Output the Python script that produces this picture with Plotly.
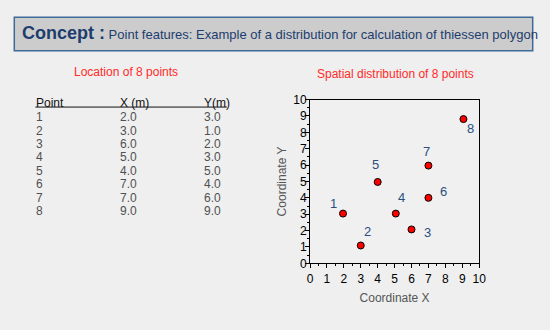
import plotly.graph_objects as go

# ---- data ----
point_ids = ["1", "2", "3", "4", "5", "6", "7", "8"]
x_m = [2.0, 3.0, 6.0, 5.0, 4.0, 7.0, 7.0, 9.0]
y_m = [3.0, 1.0, 2.0, 3.0, 5.0, 4.0, 6.0, 9.0]
# positions as drawn in the scatter
plot_x = [1.95, 3.0, 6.0, 5.07, 4.0, 7.0, 7.0, 9.07]
plot_y = [3.04, 1.09, 2.07, 3.04, 4.97, 4.0, 5.97, 8.81]
table_headers = ["Point", "X (m)", "Y(m)"]
title_bold = "Concept :"
title_rest = "Point features: Example of a distribution for calculation of thiessen polygon"
table_title = "Location of 8 points"
chart_title = "Spatial distribution of 8 points"

W, H = 550, 330
FONT = "Arial, Liberation Sans, sans-serif"
NAVY = "#1c3d6e"
LABEL = "#2b4f7c"

def px(x):
    return x / W

def py(y):
    return (H - y) / H

fig = go.Figure()

fig.add_trace(go.Scatter(
    x=plot_x, y=plot_y, mode="markers",
    marker=dict(color="#ff0000", size=7, line=dict(color="#000000", width=1)),
    hoverinfo="skip", showlegend=False,
))

# label offsets (pixels) for point numbers
lab_dx = [-10, 7, 16, 6, -2, 15, -2, 7]
lab_dy = [10, 14, -3, 16, 17, 6, 14, -9]
annotations = []
for i, pid in enumerate(point_ids):
    annotations.append(dict(
        x=plot_x[i], y=plot_y[i], xref="x", yref="y", text=pid, showarrow=False,
        xshift=lab_dx[i], yshift=lab_dy[i],
        font=dict(family=FONT, size=13, color=LABEL),
    ))

# header
annotations.append(dict(
    x=px(17), y=py(27), xref="paper", yref="paper",
    text="<b>" + title_bold + "</b><span style='font-size:13px'> " + title_rest + "</span>",
    showarrow=False, xanchor="left", yanchor="middle",
    font=dict(family=FONT, size=18, color=NAVY)))

# titles
annotations.append(dict(x=px(125), y=py(68), xref="paper", yref="paper", text=table_title,
                        showarrow=False, xanchor="center", yanchor="middle",
                        font=dict(family=FONT, size=12, color="#ff2a2a")))
annotations.append(dict(x=px(400), y=py(70), xref="paper", yref="paper", text=chart_title,
                        showarrow=False, xanchor="center", yanchor="middle",
                        font=dict(family=FONT, size=12, color="#ff2a2a")))

# table
col_x = [32, 117, 203]
for cx, h in zip(col_x, table_headers):
    annotations.append(dict(x=px(cx), y=py(100), xref="paper", yref="paper", text=h,
                            showarrow=False, xanchor="left", yanchor="middle",
                            font=dict(family=FONT, size=12, color="#111111")))
for i in range(len(point_ids)):
    yy = 115 + i * 14.05
    vals = [point_ids[i], "%.1f" % x_m[i], "%.1f" % y_m[i]]
    for cx, v in zip(col_x, vals):
        annotations.append(dict(x=px(cx), y=py(yy), xref="paper", yref="paper", text=v,
                                showarrow=False, xanchor="left", yanchor="middle",
                                font=dict(family=FONT, size=12, color="#505050")))

shapes = [
    dict(type="rect", xref="paper", yref="paper", x0=px(11.5), x1=px(539.5), y0=py(45.7), y1=py(10.7),
         fillcolor="#cccccc", line=dict(color="#3d6a98", width=1.5), layer="below"),
    dict(type="line", xref="paper", yref="paper", x0=px(33), x1=px(228), y0=py(104.5), y1=py(104.5),
         line=dict(color="#111111", width=1)),
]

axis_common = dict(
    range=[0, 10], dtick=1, tick0=0, showgrid=False, zeroline=False,
    showline=True, linecolor="#000000", linewidth=1, mirror=True,
    ticks="outside", ticklen=4, tickcolor="#000000", tickwidth=1,
    minor=dict(ticks="outside", ticklen=2, dtick=0.5, tickcolor="#000000", showgrid=False),
    tickfont=dict(family=FONT, size=12, color="#000000"),
    fixedrange=True,
)

fig.update_layout(
    width=W, height=H, margin=dict(l=0, r=0, t=0, b=0),
    paper_bgcolor="#efefef", plot_bgcolor="#f0f0f0",
    xaxis=dict(domain=[px(312.7), px(485)],
               title=dict(text="Coordinate X", standoff=8,
                          font=dict(family=FONT, size=12, color="#555555")),
               **axis_common),
    yaxis=dict(domain=[py(267.7), py(96.7)], ticklabelstandoff=-4,
               title=dict(text="Coordinate Y", standoff=4,
                          font=dict(family=FONT, size=12, color="#555555")),
               **axis_common),
    annotations=annotations, shapes=shapes, showlegend=False,
)

fig.write_html("out.html")
